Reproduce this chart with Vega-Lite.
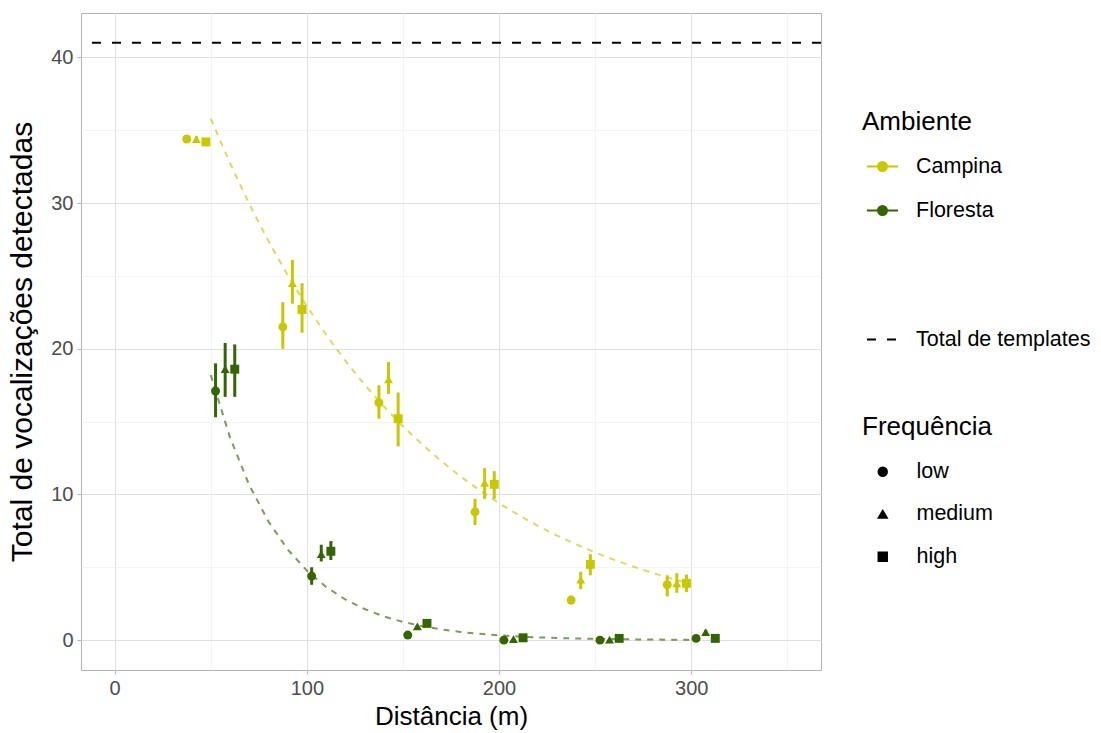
{
  "$schema": "https://vega.github.io/schema/vega-lite/v6.json",
  "width": 740,
  "height": 657,
  "autosize": {"type": "none"},
  "padding": {"left": 81, "top": 13, "right": 280, "bottom": 63},
  "background": "white",
  "config": {
    "font": "Liberation Sans",
    "view": {"stroke": "#b3b3b3", "strokeWidth": 1},
    "axis": {
      "labelFont": "Liberation Sans",
      "labelFontSize": 20,
      "labelColor": "#4d4d4d",
      "titleFont": "Liberation Sans",
      "titleFontSize": 26,
      "titleFontWeight": "normal",
      "titleColor": "black",
      "tickColor": "#b3b3b3",
      "tickSize": 4,
      "domain": false,
      "labelPadding": 4
    },
    "legend": {
      "titleFont": "Liberation Sans",
      "titleFontSize": 26,
      "titleFontWeight": "normal",
      "titleColor": "black",
      "labelFont": "Liberation Sans",
      "labelFontSize": 21.5,
      "labelColor": "black",
      "labelLimit": 400,
      "orient": "none"
    }
  },
  "datasets": {
    "pontos": [
      {"Ambiente": "Campina", "Frequencia": "low", "dist": 50, "posicao": 37.5, "total": 34.4, "min": 34.2, "max": 34.6},
      {"Ambiente": "Campina", "Frequencia": "medium", "dist": 50, "posicao": 42.5, "total": 34.4, "min": 34.2, "max": 34.6},
      {"Ambiente": "Campina", "Frequencia": "high", "dist": 50, "posicao": 47.5, "total": 34.2, "min": 34.0, "max": 34.4},
      {"Ambiente": "Campina", "Frequencia": "low", "dist": 100, "posicao": 87.5, "total": 21.5, "min": 20.0, "max": 23.2},
      {"Ambiente": "Campina", "Frequencia": "medium", "dist": 100, "posicao": 92.5, "total": 24.5, "min": 23.1, "max": 26.1},
      {"Ambiente": "Campina", "Frequencia": "high", "dist": 100, "posicao": 97.5, "total": 22.7, "min": 21.1, "max": 24.5},
      {"Ambiente": "Campina", "Frequencia": "low", "dist": 150, "posicao": 137.5, "total": 16.3, "min": 15.2, "max": 17.5},
      {"Ambiente": "Campina", "Frequencia": "medium", "dist": 150, "posicao": 142.5, "total": 17.9, "min": 16.9, "max": 19.1},
      {"Ambiente": "Campina", "Frequencia": "high", "dist": 150, "posicao": 147.5, "total": 15.2, "min": 13.3, "max": 17.0},
      {"Ambiente": "Campina", "Frequencia": "low", "dist": 200, "posicao": 187.5, "total": 8.8, "min": 7.9, "max": 9.7},
      {"Ambiente": "Campina", "Frequencia": "medium", "dist": 200, "posicao": 192.5, "total": 10.8, "min": 9.7, "max": 11.8},
      {"Ambiente": "Campina", "Frequencia": "high", "dist": 200, "posicao": 197.5, "total": 10.7, "min": 9.7, "max": 11.6},
      {"Ambiente": "Campina", "Frequencia": "low", "dist": 250, "posicao": 237.5, "total": 2.75, "min": 2.45, "max": 3.05},
      {"Ambiente": "Campina", "Frequencia": "medium", "dist": 250, "posicao": 242.5, "total": 4.15, "min": 3.5, "max": 4.7},
      {"Ambiente": "Campina", "Frequencia": "high", "dist": 250, "posicao": 247.5, "total": 5.2, "min": 4.45, "max": 5.9},
      {"Ambiente": "Campina", "Frequencia": "low", "dist": 300, "posicao": 287.5, "total": 3.8, "min": 3.0, "max": 4.45},
      {"Ambiente": "Campina", "Frequencia": "medium", "dist": 300, "posicao": 292.5, "total": 3.9, "min": 3.25, "max": 4.6},
      {"Ambiente": "Campina", "Frequencia": "high", "dist": 300, "posicao": 297.5, "total": 3.9, "min": 3.3, "max": 4.5},
      {"Ambiente": "Floresta", "Frequencia": "low", "dist": 50, "posicao": 52.5, "total": 17.1, "min": 15.3, "max": 19.0},
      {"Ambiente": "Floresta", "Frequencia": "medium", "dist": 50, "posicao": 57.5, "total": 18.6, "min": 16.7, "max": 20.4},
      {"Ambiente": "Floresta", "Frequencia": "high", "dist": 50, "posicao": 62.5, "total": 18.6, "min": 16.7, "max": 20.3},
      {"Ambiente": "Floresta", "Frequencia": "low", "dist": 100, "posicao": 102.5, "total": 4.4, "min": 3.8, "max": 5.0},
      {"Ambiente": "Floresta", "Frequencia": "medium", "dist": 100, "posicao": 107.5, "total": 5.9, "min": 5.4, "max": 6.55},
      {"Ambiente": "Floresta", "Frequencia": "high", "dist": 100, "posicao": 112.5, "total": 6.1, "min": 5.5, "max": 6.8},
      {"Ambiente": "Floresta", "Frequencia": "low", "dist": 150, "posicao": 152.5, "total": 0.35, "min": 0.3, "max": 0.4},
      {"Ambiente": "Floresta", "Frequencia": "medium", "dist": 150, "posicao": 157.5, "total": 0.95, "min": 0.85, "max": 1.05},
      {"Ambiente": "Floresta", "Frequencia": "high", "dist": 150, "posicao": 162.5, "total": 1.15, "min": 1.05, "max": 1.25},
      {"Ambiente": "Floresta", "Frequencia": "low", "dist": 200, "posicao": 202.5, "total": 0.0, "min": 0.0, "max": 0.0},
      {"Ambiente": "Floresta", "Frequencia": "medium", "dist": 200, "posicao": 207.5, "total": 0.07, "min": 0.0, "max": 0.14},
      {"Ambiente": "Floresta", "Frequencia": "high", "dist": 200, "posicao": 212.5, "total": 0.16, "min": 0.08, "max": 0.24},
      {"Ambiente": "Floresta", "Frequencia": "low", "dist": 250, "posicao": 252.5, "total": 0.0, "min": 0.0, "max": 0.0},
      {"Ambiente": "Floresta", "Frequencia": "medium", "dist": 250, "posicao": 257.5, "total": 0.03, "min": 0.0, "max": 0.06},
      {"Ambiente": "Floresta", "Frequencia": "high", "dist": 250, "posicao": 262.5, "total": 0.12, "min": 0.05, "max": 0.19},
      {"Ambiente": "Floresta", "Frequencia": "low", "dist": 300, "posicao": 302.5, "total": 0.12, "min": 0.05, "max": 0.19},
      {"Ambiente": "Floresta", "Frequencia": "medium", "dist": 300, "posicao": 307.5, "total": 0.55, "min": 0.4, "max": 0.7},
      {"Ambiente": "Floresta", "Frequencia": "high", "dist": 300, "posicao": 312.5, "total": 0.12, "min": 0.05, "max": 0.19}
    ],
    "curvas": [
      {"Ambiente": "Campina", "dist": 50, "ajuste": 35.8},
      {"Ambiente": "Campina", "dist": 60, "ajuste": 32.75},
      {"Ambiente": "Campina", "dist": 70, "ajuste": 29.95},
      {"Ambiente": "Campina", "dist": 80, "ajuste": 27.4},
      {"Ambiente": "Campina", "dist": 90, "ajuste": 25.06},
      {"Ambiente": "Campina", "dist": 100, "ajuste": 22.92},
      {"Ambiente": "Campina", "dist": 110, "ajuste": 20.97},
      {"Ambiente": "Campina", "dist": 120, "ajuste": 19.18},
      {"Ambiente": "Campina", "dist": 130, "ajuste": 17.54},
      {"Ambiente": "Campina", "dist": 140, "ajuste": 16.05},
      {"Ambiente": "Campina", "dist": 150, "ajuste": 14.68},
      {"Ambiente": "Campina", "dist": 160, "ajuste": 13.43},
      {"Ambiente": "Campina", "dist": 170, "ajuste": 12.28},
      {"Ambiente": "Campina", "dist": 180, "ajuste": 11.23},
      {"Ambiente": "Campina", "dist": 190, "ajuste": 10.28},
      {"Ambiente": "Campina", "dist": 200, "ajuste": 9.4},
      {"Ambiente": "Campina", "dist": 210, "ajuste": 8.6},
      {"Ambiente": "Campina", "dist": 220, "ajuste": 7.86},
      {"Ambiente": "Campina", "dist": 230, "ajuste": 7.19},
      {"Ambiente": "Campina", "dist": 240, "ajuste": 6.58},
      {"Ambiente": "Campina", "dist": 250, "ajuste": 6.02},
      {"Ambiente": "Campina", "dist": 260, "ajuste": 5.51},
      {"Ambiente": "Campina", "dist": 270, "ajuste": 5.04},
      {"Ambiente": "Campina", "dist": 280, "ajuste": 4.61},
      {"Ambiente": "Campina", "dist": 290, "ajuste": 4.21},
      {"Ambiente": "Campina", "dist": 300, "ajuste": 3.85},
      {"Ambiente": "Floresta", "dist": 50, "ajuste": 18.2},
      {"Ambiente": "Floresta", "dist": 60, "ajuste": 13.92},
      {"Ambiente": "Floresta", "dist": 70, "ajuste": 10.65},
      {"Ambiente": "Floresta", "dist": 80, "ajuste": 8.15},
      {"Ambiente": "Floresta", "dist": 90, "ajuste": 6.23},
      {"Ambiente": "Floresta", "dist": 100, "ajuste": 4.77},
      {"Ambiente": "Floresta", "dist": 110, "ajuste": 3.65},
      {"Ambiente": "Floresta", "dist": 120, "ajuste": 2.79},
      {"Ambiente": "Floresta", "dist": 130, "ajuste": 2.14},
      {"Ambiente": "Floresta", "dist": 140, "ajuste": 1.63},
      {"Ambiente": "Floresta", "dist": 150, "ajuste": 1.25},
      {"Ambiente": "Floresta", "dist": 160, "ajuste": 0.96},
      {"Ambiente": "Floresta", "dist": 170, "ajuste": 0.73},
      {"Ambiente": "Floresta", "dist": 180, "ajuste": 0.56},
      {"Ambiente": "Floresta", "dist": 190, "ajuste": 0.43},
      {"Ambiente": "Floresta", "dist": 200, "ajuste": 0.33},
      {"Ambiente": "Floresta", "dist": 210, "ajuste": 0.25},
      {"Ambiente": "Floresta", "dist": 220, "ajuste": 0.19},
      {"Ambiente": "Floresta", "dist": 230, "ajuste": 0.15},
      {"Ambiente": "Floresta", "dist": 240, "ajuste": 0.11},
      {"Ambiente": "Floresta", "dist": 250, "ajuste": 0.09},
      {"Ambiente": "Floresta", "dist": 260, "ajuste": 0.07},
      {"Ambiente": "Floresta", "dist": 270, "ajuste": 0.05},
      {"Ambiente": "Floresta", "dist": 280, "ajuste": 0.04},
      {"Ambiente": "Floresta", "dist": 290, "ajuste": 0.03},
      {"Ambiente": "Floresta", "dist": 300, "ajuste": 0.02}
    ],
    "limite": [
      {"tipo": "Total de templates", "valor": 41}
    ]
  },
  "layer": [
    {
      "data": {"name": "limite"},
      "mark": {"type": "rule", "color": "black", "strokeWidth": 2},
      "encoding": {
        "y": {
          "field": "valor", "type": "quantitative",
          "scale": {"domain": [-2.05, 43.05], "nice": false, "zero": false},
          "axis": {
            "values": [0, 5, 10, 15, 20, 25, 30, 35, 40],
            "labelExpr": "datum.value % 10 === 0 ? datum.label : ''",
            "title": "Total de vocalizações detectadas",
            "titleFontSize": 30,
            "titlePadding": 13,
            "gridColor": {"condition": {"test": "datum.value % 10 === 0", "value": "#e0e0e0"}, "value": "#efefef"},
            "gridWidth": {"condition": {"test": "datum.value % 10 === 0", "value": 1}, "value": 0.7},
            "tickOpacity": {"condition": {"test": "datum.value % 10 === 0", "value": 1}, "value": 0}
          }
        },
        "strokeDash": {
          "field": "tipo", "type": "nominal",
          "scale": {"range": [[9, 11]]},
          "legend": {
            "title": null,
            "legendX": 785,
            "legendY": 310,
            "symbolType": "stroke",
            "symbolSize": 961,
            "symbolStrokeWidth": 2,
            "symbolStrokeColor": "black",
            "symbolDash": [9, 6],
            "labelOffset": 17
          }
        }
      }
    },
    {
      "data": {"name": "curvas"},
      "mark": {"type": "line", "strokeDash": [6, 6], "strokeWidth": 2, "opacity": 0.65},
      "encoding": {
        "x": {"field": "dist", "type": "quantitative"},
        "y": {"field": "ajuste", "type": "quantitative"},
        "color": {"field": "Ambiente", "type": "nominal"}
      }
    },
    {
      "data": {"name": "pontos"},
      "mark": {"type": "rule", "strokeWidth": 3},
      "encoding": {
        "x": {"field": "posicao", "type": "quantitative"},
        "y": {"field": "min", "type": "quantitative"},
        "y2": {"field": "max"},
        "color": {"field": "Ambiente", "type": "nominal"}
      }
    },
    {
      "data": {"name": "pontos"},
      "mark": {"type": "point", "filled": true, "size": 80, "opacity": 1},
      "encoding": {
        "x": {
          "field": "posicao", "type": "quantitative",
          "scale": {"domain": [-17.5, 367.5], "nice": false, "zero": false},
          "axis": {
            "values": [0, 50, 100, 150, 200, 250, 300, 350],
            "labelExpr": "datum.value % 100 === 0 ? datum.label : ''",
            "title": "Distância (m)",
            "titlePadding": 5,
            "gridColor": {"condition": {"test": "datum.value % 100 === 0", "value": "#e0e0e0"}, "value": "#efefef"},
            "gridWidth": {"condition": {"test": "datum.value % 100 === 0", "value": 1}, "value": 0.7},
            "tickOpacity": {"condition": {"test": "datum.value % 100 === 0", "value": 1}, "value": 0}
          }
        },
        "y": {"field": "total", "type": "quantitative"},
        "color": {
          "field": "Ambiente", "type": "nominal",
          "scale": {"domain": ["Campina", "Floresta"], "range": ["#c8c800", "#336600"]},
          "legend": {
            "title": "Ambiente",
            "legendX": 781,
            "legendY": 96,
            "symbolType": "M-0.8,0L0.8,0M-0.23,0A0.23,0.23 0 1,0 0.23,0A0.23,0.23 0 1,0 -0.23,0Z",
            "symbolSize": 1521,
            "symbolStrokeWidth": 2,
            "symbolOpacity": 1,
            "titlePadding": 11,
            "rowPadding": 13,
            "labelOffset": 13,
            "encode": {
              "symbols": {
                "update": {
                  "fill": {"scale": "color", "field": "value"},
                  "stroke": {"scale": "color", "field": "value"},
                  "opacity": {"value": 1},
                  "fillOpacity": {"value": 1},
                  "strokeOpacity": {"value": 1},
                  "strokeDash": {"value": []}
                }
              }
            }
          }
        },
        "shape": {
          "field": "Frequencia", "type": "nominal",
          "scale": {"domain": ["low", "medium", "high"], "range": ["circle", "triangle-up", "square"]},
          "legend": {
            "title": "Frequência",
            "legendX": 781,
            "legendY": 401,
            "symbolSize": 80,
            "symbolOffset": 10,
            "symbolFillColor": "black",
            "symbolStrokeColor": "black",
            "titlePadding": 21,
            "rowPadding": 19.5,
            "labelOffset": 23,
            "encode": {
              "symbols": {
                "update": {
                  "fill": {"value": "black"},
                  "stroke": {"value": "black"},
                  "opacity": {"value": 1}
                }
              }
            }
          }
        }
      }
    }
  ]
}
